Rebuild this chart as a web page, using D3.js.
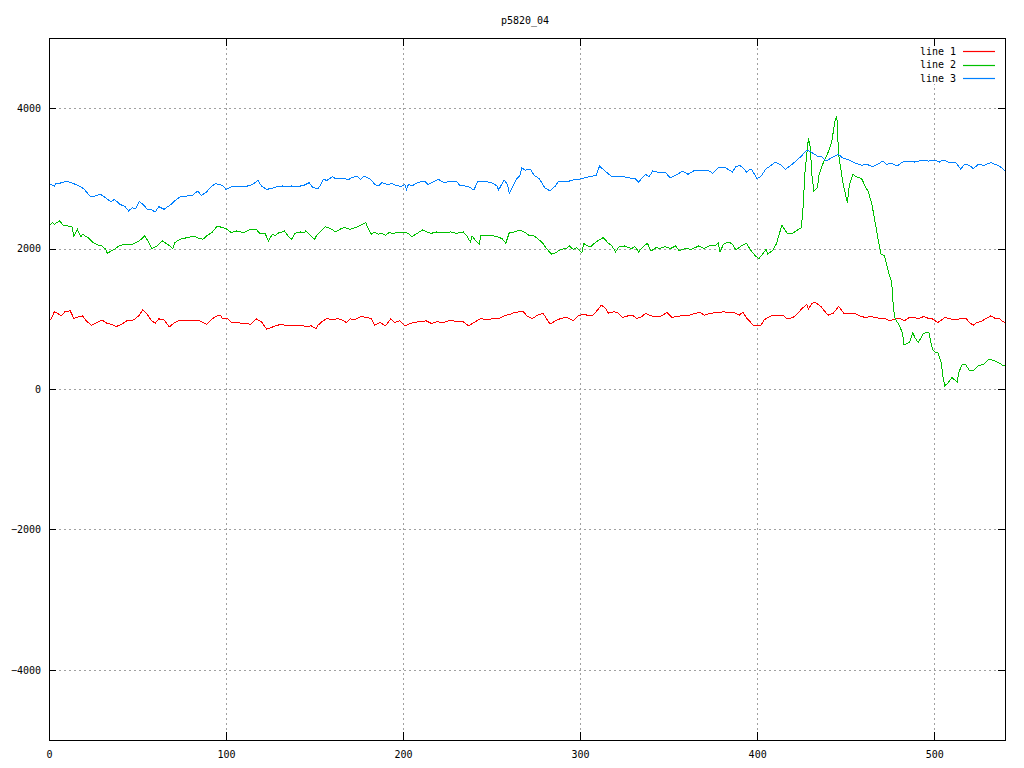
<!DOCTYPE html>
<html><head><meta charset="utf-8">
<script src="https://cdn.jsdelivr.net/npm/d3@7"></script>
<style>
body{margin:0;background:#fff}
text{font-family:"DejaVu Sans Mono","Liberation Mono",monospace;font-size:10px;fill:#000}
</style>
</head><body>
<svg id="chart" width="1024" height="768"></svg>
<script>
const chartTitle = "p5820_04";
const seriesNames = ["line 1", "line 2", "line 3"];
const seriesColors = ["#ff0000", "#00c000", "#0080ff"];
const xDomain = [0, 540];
const yDomain = [-5000, 5000];
const xTicks = [0, 100, 200, 300, 400, 500];
const yTicks = [-4000, -2000, 0, 2000, 4000];

const line1 = [[0,1004],[1,985],[3,1100],[5,1075],[7,1042],[9,1100],[12,1115],[14,1004],[17,1032],[19,1042],[21,971],[24,909],[27,947],[30,980],[33,933],[35,923],[38,890],[41,923],[44,971],[48,985],[51,1051],[53,1127],[55,1080],[58,971],[60,938],[62,999],[65,985],[68,885],[71,947],[74,980],[78,980],[82,980],[85,971],[89,923],[92,999],[95,1042],[97,1051],[98,1004],[101,999],[103,947],[106,947],[110,933],[114,923],[117,999],[120,957],[123,852],[127,890],[131,923],[135,900],[139,900],[143,900],[146,890],[148,900],[151,862],[152,909],[154,957],[157,1004],[160,985],[163,1004],[166,980],[168,947],[170,999],[173,990],[176,1032],[180,1018],[182,999],[184,909],[187,947],[190,900],[193,999],[195,947],[198,971],[201,900],[203,923],[206,947],[210,961],[213,971],[216,933],[219,957],[223,947],[227,980],[231,957],[234,957],[237,900],[240,947],[244,1004],[247,985],[251,1004],[254,999],[257,1042],[260,1061],[263,1089],[266,1100],[268,1099],[270,1042],[273,1004],[276,1051],[279,1080],[281,1004],[283,923],[286,971],[289,1004],[292,1018],[294,1004],[296,971],[299,1042],[302,1066],[304,1051],[307,1051],[309,1099],[312,1194],[314,1161],[316,1080],[319,1099],[321,1089],[324,1018],[327,1042],[330,1042],[332,1004],[335,1032],[337,1080],[340,1042],[343,1028],[346,1042],[349,1089],[352,1018],[354,1032],[357,1042],[361,1042],[365,1080],[368,1089],[370,1051],[374,1080],[378,1089],[381,1099],[384,1089],[387,1089],[390,1051],[392,1099],[394,1010],[396,960],[398,900],[402,900],[404,985],[406,1018],[409,1051],[412,1042],[415,1042],[417,999],[420,1018],[422,1051],[425,1137],[428,1208],[429,1137],[431,1222],[433,1232],[436,1175],[438,1113],[440,1051],[443,1080],[446,1175],[449,1080],[452,1080],[455,1080],[458,1042],[461,1018],[464,1032],[467,1018],[470,1004],[472,1004],[475,971],[478,999],[481,1004],[483,971],[486,1018],[489,1018],[491,999],[494,1032],[497,1004],[499,999],[502,947],[505,999],[506,1018],[509,999],[512,985],[515,1004],[518,1004],[520,947],[522,909],[524,947],[526,957],[529,999],[532,1042],[535,999],[537,999],[539,957],[540,947]];

const line2 = [[0,2322],[2,2370],[3,2346],[6,2394],[8,2332],[13,2313],[14,2180],[16,2275],[18,2166],[19,2204],[22,2156],[25,2085],[28,2047],[30,2038],[32,1990],[33,1929],[35,1967],[37,1990],[40,2047],[44,2062],[47,2062],[50,2095],[52,2133],[54,2180],[56,2109],[58,2000],[61,2038],[64,2109],[67,2062],[70,2000],[71,2085],[74,2133],[78,2156],[82,2180],[85,2142],[87,2133],[89,2180],[92,2228],[95,2322],[98,2299],[100,2285],[103,2228],[106,2251],[110,2228],[114,2275],[117,2275],[119,2218],[122,2218],[124,2109],[126,2200],[128,2190],[130,2228],[132,2237],[133,2251],[135,2180],[137,2133],[139,2218],[142,2237],[144,2223],[145,2251],[148,2180],[150,2133],[151,2180],[153,2237],[156,2313],[159,2285],[162,2237],[165,2285],[167,2299],[170,2275],[173,2299],[176,2332],[179,2370],[180,2299],[182,2204],[184,2237],[186,2204],[188,2218],[190,2190],[192,2228],[194,2218],[197,2228],[200,2237],[203,2218],[205,2171],[208,2218],[211,2266],[214,2228],[216,2218],[219,2237],[223,2228],[227,2237],[230,2218],[234,2237],[236,2180],[238,2095],[239,2180],[241,2109],[243,2062],[244,2190],[247,2180],[251,2180],[253,2171],[256,2142],[258,2076],[260,2228],[263,2237],[266,2266],[269,2228],[271,2190],[274,2180],[276,2142],[279,2076],[281,2000],[284,1919],[287,1953],[289,1990],[292,2000],[294,2038],[296,1990],[298,2014],[301,1943],[302,2076],[304,2038],[306,2028],[309,2095],[313,2156],[316,2076],[318,2038],[320,1953],[322,2028],[325,2038],[329,2000],[331,2028],[333,1953],[336,2038],[338,2076],[340,1967],[343,2014],[345,2000],[348,2028],[351,2000],[354,2038],[356,1967],[359,2000],[363,1990],[367,2038],[370,2000],[373,2038],[376,2038],[378,2076],[379,1953],[381,2062],[384,2095],[386,2062],[388,1981],[391,2038],[394,2076],[396,1990],[399,1896],[401,1858],[403,1919],[405,1990],[406,1919],[409,1981],[411,2076],[413,2251],[414,2332],[417,2218],[420,2218],[422,2251],[425,2299],[426,2607],[427,3081],[429,3579],[430,3437],[431,3034],[432,2821],[434,2868],[435,3058],[437,3200],[440,3366],[442,3508],[444,3817],[445,3888],[446,3342],[448,3010],[449,2868],[451,2655],[452,2892],[454,3058],[456,3024],[459,2996],[461,2892],[463,2797],[465,2607],[467,2322],[469,2038],[470,1919],[472,1896],[474,1682],[476,1516],[477,1137],[478,994],[480,923],[482,805],[483,625],[486,663],[488,805],[489,734],[491,663],[494,795],[497,805],[499,568],[501,511],[502,520],[504,378],[505,164],[506,45],[508,93],[510,164],[511,140],[513,102],[514,245],[516,354],[518,340],[520,259],[522,259],[525,330],[528,354],[531,425],[534,402],[537,368],[539,330],[540,330]];

const line3 = [[0,2925],[3,2892],[4,2930],[6,2930],[10,2962],[14,2925],[18,2882],[20,2844],[23,2749],[25,2740],[29,2773],[32,2725],[35,2664],[37,2702],[40,2631],[43,2598],[45,2536],[47,2583],[49,2569],[51,2669],[53,2631],[56,2550],[58,2550],[60,2522],[62,2598],[65,2560],[69,2631],[72,2702],[75,2749],[78,2749],[81,2759],[84,2820],[86,2759],[87,2773],[89,2806],[91,2868],[94,2925],[98,2901],[100,2844],[103,2882],[106,2882],[111,2882],[115,2915],[118,2972],[120,2892],[123,2844],[125,2854],[129,2882],[132,2892],[135,2878],[137,2892],[140,2882],[144,2901],[147,2939],[149,2868],[152,2854],[153,2892],[155,2987],[157,2970],[160,3024],[162,2996],[165,2996],[167,2996],[169,2980],[171,3010],[174,3034],[176,2987],[178,3034],[180,3010],[182,2977],[184,2915],[186,2892],[188,2939],[191,2915],[194,2925],[196,2901],[199,2882],[201,2915],[202,2844],[203,2915],[205,2892],[208,2939],[212,2962],[214,2915],[217,2949],[220,2987],[223,2939],[227,2962],[230,2962],[232,2901],[235,2892],[237,2882],[240,2835],[242,2949],[245,2962],[248,2949],[251,2930],[253,2892],[254,2835],[257,2977],[259,2915],[260,2787],[262,2892],[264,2987],[266,3043],[267,3150],[269,3119],[272,3129],[274,3043],[277,2996],[280,2868],[283,2821],[286,2892],[288,2962],[292,2949],[296,2977],[301,2996],[305,3024],[309,3043],[311,3176],[314,3105],[318,3024],[321,3024],[323,3034],[327,3010],[331,2996],[333,2949],[337,3058],[339,3024],[341,3105],[345,3081],[348,3086],[351,3010],[355,3058],[358,3105],[361,3058],[365,3119],[369,3105],[372,3119],[375,3072],[378,3152],[382,3152],[386,3091],[388,3167],[390,3186],[392,3152],[394,3091],[396,3129],[397,3119],[400,2996],[402,3024],[405,3138],[408,3186],[410,3233],[413,3200],[416,3129],[418,3167],[422,3247],[425,3319],[428,3404],[431,3366],[434,3319],[436,3319],[439,3247],[442,3295],[446,3342],[448,3295],[451,3271],[454,3233],[456,3214],[459,3186],[462,3200],[465,3167],[468,3200],[471,3247],[473,3200],[476,3214],[479,3176],[482,3233],[486,3247],[489,3233],[493,3257],[497,3247],[500,3262],[503,3233],[505,3262],[508,3233],[512,3233],[515,3129],[517,3200],[520,3186],[522,3138],[525,3200],[528,3186],[532,3224],[536,3186],[538,3152],[540,3105]];

const seriesData = [line1, line2, line3];

const svg = d3.select("#chart");
const W = 1024, H = 768;
const plot = {left: 49, right: 1005, top: 38, bottom: 740};

svg.append("rect").attr("width", W).attr("height", H).attr("fill", "#fff");

const x = d3.scaleLinear().domain(xDomain).range([plot.left, plot.right]);
const y = d3.scaleLinear().domain(yDomain).range([plot.bottom, plot.top]);
const fmt = d3.format("d");

// grid
const grid = svg.append("g").attr("shape-rendering", "crispEdges")
  .attr("stroke", "#a0a0a0").attr("stroke-dasharray", "2,3").attr("stroke-width", 1);
grid.selectAll("line.gx").data(xTicks.filter(t => t > xDomain[0] && t < xDomain[1]))
  .join("line").attr("class", "gx")
  .attr("x1", d => Math.round(x(d)) + 0.5).attr("x2", d => Math.round(x(d)) + 0.5)
  .attr("y1", plot.top).attr("y2", plot.bottom);
grid.selectAll("line.gy").data(yTicks)
  .join("line").attr("class", "gy")
  .attr("y1", d => Math.round(y(d)) + 0.5).attr("y2", d => Math.round(y(d)) + 0.5)
  .attr("x1", plot.left).attr("x2", plot.right);

// axes with inward ticks on all sides
const axB = d3.axisBottom(x).tickValues(xTicks).tickSize(-8).tickPadding(11).tickFormat(fmt);
const axT = d3.axisTop(x).tickValues(xTicks).tickSize(-8).tickFormat("");
const axL = d3.axisLeft(y).tickValues(yTicks).tickSize(-7).tickPadding(8).tickFormat(fmt);
const axR = d3.axisRight(y).tickValues(yTicks).tickSize(-7).tickFormat("");

function styleAxis(g) {
  g.attr("shape-rendering", "crispEdges");
  g.select(".domain").remove();
  g.selectAll(".tick line").attr("stroke", "#000");
  g.selectAll(".tick text").attr("font-family", null).attr("font-size", null).attr("fill", "#000");
}
svg.append("g").attr("transform", `translate(0,${plot.bottom})`).call(axB).call(styleAxis);
svg.append("g").attr("transform", `translate(0,${plot.top})`).call(axT).call(styleAxis);
svg.append("g").attr("transform", `translate(${plot.left},0)`).call(axL).call(styleAxis);
svg.append("g").attr("transform", `translate(${plot.right},0)`).call(axR).call(styleAxis);

// legend background (hides grid behind key)
svg.append("rect").attr("x", 912).attr("y", 47).attr("width", 90).attr("height", 37).attr("fill", "#fff");

// data lines
const lineGen = d3.line().x(d => x(d[0])).y(d => y(d[1]));
seriesData.forEach((data, i) => {
  svg.append("path").datum(data)
    .attr("d", lineGen)
    .attr("fill", "none")
    .attr("stroke", seriesColors[i])
    .attr("stroke-width", 1)
    .attr("shape-rendering", "crispEdges");
});

// border
svg.append("rect")
  .attr("x", plot.left + 0.5).attr("y", plot.top + 0.5)
  .attr("width", plot.right - plot.left).attr("height", plot.bottom - plot.top)
  .attr("fill", "none").attr("stroke", "#000").attr("stroke-width", 1)
  .attr("shape-rendering", "crispEdges");

// title
svg.append("text").attr("x", 525).attr("y", 20).attr("dy", "0.35em").attr("text-anchor", "middle").text(chartTitle);

// legend
seriesNames.forEach((name, i) => {
  const yy = 51 + i * 13.5;
  svg.append("text").attr("x", 956).attr("y", yy).attr("dy", "0.35em").attr("text-anchor", "end").text(name);
  svg.append("line").attr("x1", 963).attr("x2", 995)
    .attr("y1", Math.round(yy) + 0.5).attr("y2", Math.round(yy) + 0.5)
    .attr("stroke", seriesColors[i]).attr("stroke-width", 1.2);
});
</script>
</body></html>
